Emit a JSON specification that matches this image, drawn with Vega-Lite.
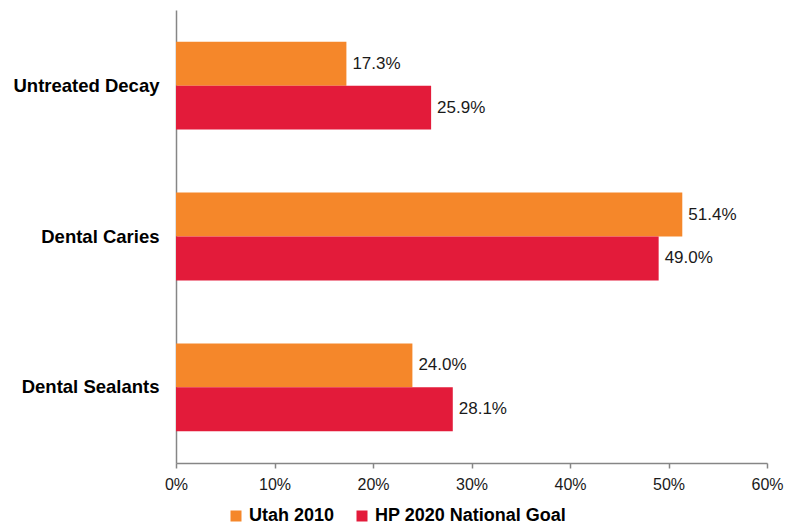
{
  "$schema": "https://vega.github.io/schema/vega-lite/v6.json",
  "width": 591,
  "height": 453,
  "autosize": {"type": "none"},
  "padding": {"left": 176, "top": 10, "right": 30, "bottom": 64},
  "background": "white",
  "config": {
    "view": {"stroke": null},
    "font": "Liberation Sans"
  },
  "data": {
    "values": [
      {"category": "Untreated Decay", "series": "Utah 2010", "value": 0.173},
      {"category": "Untreated Decay", "series": "HP 2020 National Goal", "value": 0.259},
      {"category": "Dental Caries", "series": "Utah 2010", "value": 0.514},
      {"category": "Dental Caries", "series": "HP 2020 National Goal", "value": 0.490},
      {"category": "Dental Sealants", "series": "Utah 2010", "value": 0.240},
      {"category": "Dental Sealants", "series": "HP 2020 National Goal", "value": 0.281}
    ]
  },
  "encoding": {
    "y": {
      "field": "category",
      "type": "nominal",
      "sort": ["Untreated Decay", "Dental Caries", "Dental Sealants"],
      "scale": {"paddingInner": 0.417, "paddingOuter": 0.21},
      "axis": {
        "title": null,
        "ticks": false,
        "labelFont": "Liberation Sans",
        "labelFontWeight": "bold",
        "labelFontSize": 18.5,
        "labelColor": "#000000",
        "labelPadding": 17,
        "labelLimit": 300,
        "domainColor": "#868686",
        "domainWidth": 1.5
      }
    },
    "yOffset": {
      "field": "series",
      "type": "nominal",
      "sort": ["Utah 2010", "HP 2020 National Goal"],
      "scale": {"paddingInner": 0, "paddingOuter": 0}
    },
    "x": {
      "field": "value",
      "type": "quantitative",
      "scale": {"domain": [0, 0.6]},
      "axis": {
        "title": null,
        "grid": false,
        "values": [0, 0.1, 0.2, 0.3, 0.4, 0.5, 0.6],
        "format": ".0%",
        "tickSize": 5,
        "tickColor": "#868686",
        "tickWidth": 1.5,
        "domainColor": "#868686",
        "domainWidth": 1.5,
        "labelFontSize": 16,
        "labelColor": "#1a1a1a",
        "labelPadding": 8,
        "labelFlush": false
      }
    }
  },
  "layer": [
    {
      "mark": {"type": "bar"},
      "encoding": {
        "color": {
          "field": "series",
          "type": "nominal",
          "sort": ["Utah 2010", "HP 2020 National Goal"],
          "scale": {"domain": ["Utah 2010", "HP 2020 National Goal"], "range": ["#F5872A", "#E31B3A"]},
          "legend": {
            "title": null,
            "orient": "none",
            "legendX": 51,
            "legendY": 497,
            "direction": "horizontal",
            "symbolType": "square",
            "symbolSize": 121,
            "symbolStrokeWidth": 0,
            "labelFont": "Liberation Sans",
            "labelFontWeight": "bold",
            "labelFontSize": 18,
            "labelColor": "#000000",
            "labelOffset": 4,
            "labelLimit": 400,
            "columnPadding": 18
          }
        }
      }
    },
    {
      "mark": {"type": "text", "align": "left", "baseline": "middle", "dx": 6, "fontSize": 17, "color": "#1a1a1a", "font": "Liberation Sans"},
      "encoding": {
        "text": {"field": "value", "type": "quantitative", "format": ".1%"}
      }
    }
  ]
}
